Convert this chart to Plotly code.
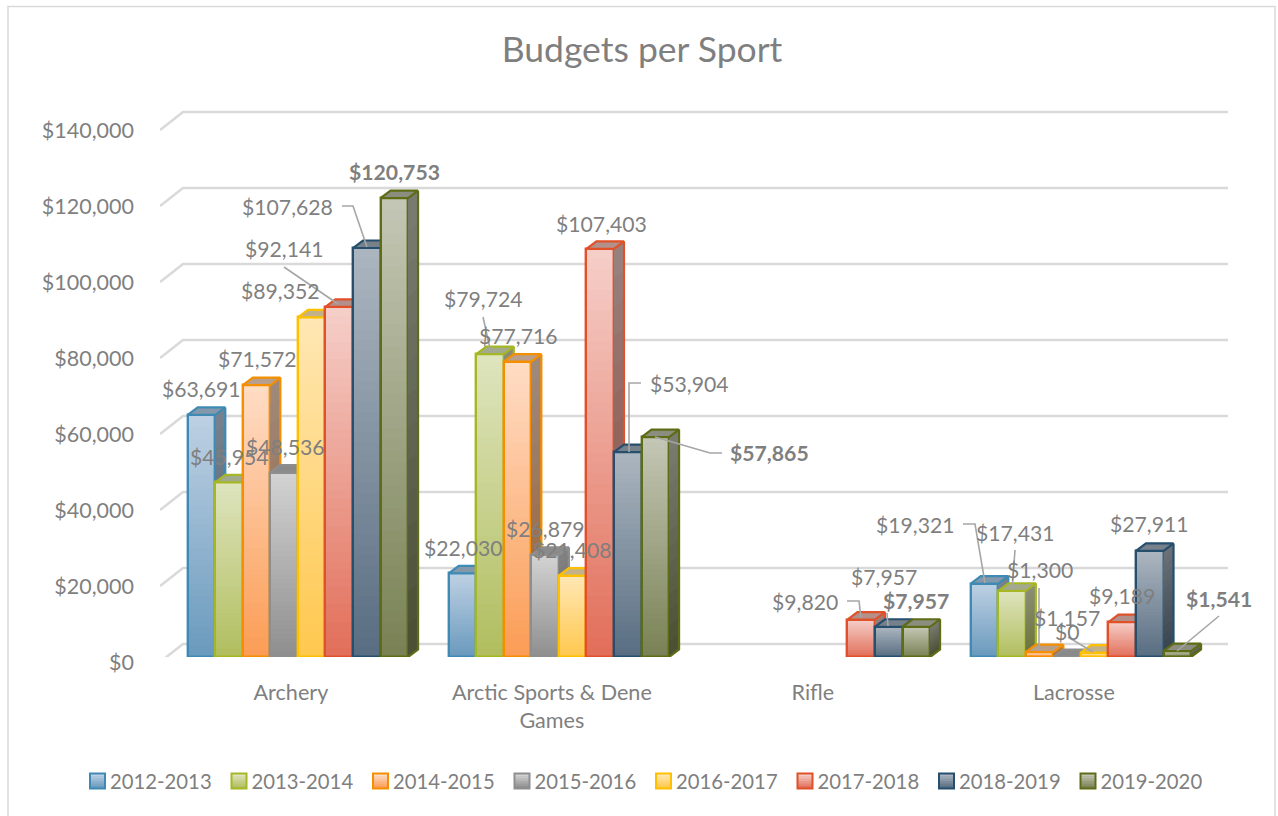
import plotly.graph_objects as go

# ---------- data ----------
categories = ["Archery", "Arctic Sports &amp; Dene<br>Games", "Rifle", "Lacrosse"]
seasons = ["2012-2013", "2013-2014", "2014-2015", "2015-2016",
           "2016-2017", "2017-2018", "2018-2019", "2019-2020"]
budget_2012_2013 = [63691, 22030, None, 19321]
budget_2013_2014 = [45954, 79724, None, 17431]
budget_2014_2015 = [71572, 77716, None, 1300]
budget_2015_2016 = [48536, 26879, None, 0]
budget_2016_2017 = [89352, 21408, None, 1157]
budget_2017_2018 = [92141, 107403, 9820, 9189]
budget_2018_2019 = [107628, 53904, 7957, 27911]
budget_2019_2020 = [120753, 57865, 7957, 1541]
budgets = [budget_2012_2013, budget_2013_2014, budget_2014_2015, budget_2015_2016,
           budget_2016_2017, budget_2017_2018, budget_2018_2019, budget_2019_2020]
y_ticks = [0, 20000, 40000, 60000, 80000, 100000, 120000, 140000]

# ---------- styles ----------
W, H = 1278, 816
FONT = "Lato"
GREY = "#7F7F7F"
BORDER = ["#3F8AB5", "#A6B726", "#F58F00", "#8E8E8E", "#FFC000", "#E0512A", "#264F6E", "#5F6C16"]
GRAD_TOP = ["#BDD0E3", "#DEE4BD", "#FFDCC4", "#D2D2D2", "#FFE7B3", "#F5CEC8", "#ABB5BF", "#C3C6B4"]
GRAD_BOT = ["#6A9ABD", "#B1BE5F", "#FB9D56", "#8F8F8F", "#FFC84F", "#E26F5A", "#596E82", "#7A8255"]
TOP_FACE = ["#8398AA", "#A3A98D", "#B89F8C", "#8A8A8A", "#C2B189", "#B39089", "#77818B", "#8B8E7E"]
N_FRONT, N_SIDE, N_SWATCH = 40, 14, 6

# pixel geometry of the reference
PX_PER_CAT = 261.0
PX_CAT0 = 297.9
PX_PER_USD = 76.0 / 20000
PX_BASE = 657.0
PLOT_L, PLOT_R, PLOT_T = 160, 1230, 100
BAR_PX = 27.54
DEPTH_X_PX, DEPTH_Y_PX = 10.0, 7.5
SWATCH_X0, SWATCH_PITCH, SWATCH_SIZE, SWATCH_TOP = 90.0, 141.5, 15.0, 773.5


def dx(px):
    return (px - PX_CAT0) / PX_PER_CAT


def dy(py):
    return (PX_BASE - py) / PX_PER_USD


def pap_x(px):
    return (px - PLOT_L) / (PLOT_R - PLOT_L)


def pap_y(py):
    return (PX_BASE - py) / (PX_BASE - PLOT_T)


X_RANGE = [dx(PLOT_L), dx(PLOT_R)]
Y_RANGE = [0, dy(PLOT_T)]
BAR_W = BAR_PX / PX_PER_CAT
DEPTH_X = DEPTH_X_PX / PX_PER_CAT
DEPTH_Y = DEPTH_Y_PX / PX_PER_USD


def hex_rgb(c):
    return tuple(int(c[i:i + 2], 16) for i in (1, 3, 5))


def mix(a, b, t, k=1.0):
    ra, rb = hex_rgb(a), hex_rgb(b)
    return "rgb(%d,%d,%d)" % tuple(round((ra[i] + (rb[i] - ra[i]) * t) * k) for i in range(3))


# label centres in pixels and leader polylines in pixels, per series / category
LABEL_POS = [
    [(201.5, 389), (463, 548), None, (915, 525)],
    [(229.5, 457), (483, 299), None, (1015, 533)],
    [(257, 359), (518, 336), None, (1040, 570)],
    [(285, 447), (545, 529), None, (1067, 632)],
    [(280, 291), (572, 550), None, (1067, 618)],
    [(284, 249), (601, 224), (805, 602), (1122, 596)],
    [(287, 207), (689, 384), (884, 577), (1149, 524)],
    [(394, 172), (769, 453), (916, 601), (1219, 599)],
]
LEADERS = [
    [(483, 317), (491, 353)],
    [(1015, 550), (1012, 590)],
    [(1039, 588), (1039, 650)],
    [(1068, 637), (1093, 652)],
    [(284, 267), (338, 304)],
    [(847, 601), (859, 601), (861, 618)],
    [(342, 206), (353, 206), (367, 247)],
    [(641, 383), (629, 383), (629, 452)],
    [(887, 613), (888, 626)],
    [(722, 453), (710, 453), (655, 437)],
    [(1219, 616), (1177, 651)],
    [(963, 524), (975, 524), (985, 583)],
]

fig = go.Figure()

# back wall gridlines, drawn from the tick values on the base axes
gx, gy = [], []
for t in y_ticks:
    gx += [dx(160), dx(183), dx(1228), None]
    gy += [t + dy(662), t + dy(644), t + dy(644), None]
fig.add_trace(go.Scatter(x=gx, y=gy, mode="lines", line=dict(color="#D9D9D9", width=2.5),
                         hoverinfo="skip", showlegend=False, cliponaxis=False))

for k, (season, vals) in enumerate(zip(seasons, budgets)):
    ax = str(k + 2)
    xa, ya = "x" + ax, "y" + ax
    offset = (k - 4) * BAR_W
    xs = list(range(len(categories)))

    # front face: gradient made of overlaid bars, tallest first
    for s in range(N_FRONT):
        frac = 1 - s / N_FRONT
        fig.add_trace(go.Bar(
            x=xs, y=[None if v is None else v * frac for v in vals],
            width=BAR_W, offset=offset, xaxis=xa, yaxis=ya,
            marker=dict(color=mix(GRAD_TOP[k], GRAD_BOT[k], s / (N_FRONT - 1)), line=dict(width=0)),
            hoverinfo="skip", showlegend=False, cliponaxis=False))
    fig.add_trace(go.Bar(
        x=xs, y=[v if v else None for v in vals], width=BAR_W, offset=offset, xaxis=xa, yaxis=ya,
        marker=dict(color="rgba(0,0,0,0)", line=dict(color=BORDER[k], width=2.4)),
        hoverinfo="skip", showlegend=False, cliponaxis=False))

    # side face
    for s in range(N_SIDE):
        frac = 1 - s / N_SIDE
        px_, py_ = [], []
        for i, v in enumerate(vals):
            if not v:
                continue
            r = i + offset + BAR_W
            h = v * frac
            px_ += [r, r + DEPTH_X, r + DEPTH_X, r, r, None]
            py_ += [h, h + DEPTH_Y, DEPTH_Y, 0, h, None]
        fig.add_trace(go.Scatter(
            x=px_, y=py_, mode="lines", fill="toself", xaxis=xa, yaxis=ya,
            line=dict(width=0), fillcolor=mix(GRAD_TOP[k], GRAD_BOT[k], s / (N_SIDE - 1), 0.62),
            hoverinfo="skip", showlegend=False, cliponaxis=False))

    # side + top outlines and top face
    tx, ty, sx, sy = [], [], [], []
    for i, v in enumerate(vals):
        if v is None:
            continue
        l, r = i + offset, i + offset + BAR_W
        tx += [l, l + DEPTH_X, r + DEPTH_X, r, l, None]
        ty += [v, v + DEPTH_Y, v + DEPTH_Y, v, v, None]
        sx += [r + DEPTH_X, r + DEPTH_X, r, None]
        sy += [v + DEPTH_Y, DEPTH_Y, 0, None]
    fig.add_trace(go.Scatter(
        x=tx, y=ty, mode="lines", fill="toself", xaxis=xa, yaxis=ya,
        line=dict(color=BORDER[k], width=2.2), fillcolor=TOP_FACE[k],
        hoverinfo="skip", showlegend=False, cliponaxis=False))
    fig.add_trace(go.Scatter(
        x=sx, y=sy, mode="lines", xaxis=xa, yaxis=ya,
        line=dict(color=BORDER[k], width=2.2),
        hoverinfo="skip", showlegend=False, cliponaxis=False))

    # legend entry (its gradient swatch is drawn below, beside the text)
    fig.add_trace(go.Scatter(
        x=[None], y=[None], mode="markers", name=season, xaxis=xa, yaxis=ya,
        marker=dict(symbol="square", size=1, color="rgba(0,0,0,0)"),
        hoverinfo="skip"))

# leader lines above all bars
lx, ly = [], []
for poly in LEADERS:
    for p in poly:
        lx.append(dx(p[0]))
        ly.append(dy(p[1]))
    lx.append(None)
    ly.append(None)
fig.add_trace(go.Scatter(x=lx, y=ly, mode="lines", xaxis="x9", yaxis="y9",
                         line=dict(color="#A6A6A6", width=1.6),
                         hoverinfo="skip", showlegend=False, cliponaxis=False))

# data labels
annotations = []
for k, vals in enumerate(budgets):
    for i, v in enumerate(vals):
        if v is None:
            continue
        p = LABEL_POS[k][i]
        txt = f"${v:,}"
        if k == 7:
            txt = f"<b>{txt}</b>"
        annotations.append(dict(x=dx(p[0]), y=dy(p[1]), xref="x", yref="y", text=txt,
                                showarrow=False, xanchor="center", yanchor="middle",
                                font=dict(family=FONT, size=21.2, color=GREY)))

# chart frame and legend swatches
shapes = [dict(type="path", xref="paper", yref="paper", layer="below",
               path="M %f %f L %f %f L %f %f L %f %f" % (
                   pap_x(8), pap_y(830), pap_x(8), pap_y(6.5),
                   pap_x(1275), pap_y(6.5), pap_x(1275), pap_y(830)),
               line=dict(color="#D9D9D9", width=1.5))]
for k in range(len(seasons)):
    x0 = SWATCH_X0 + k * SWATCH_PITCH
    for s in range(N_SWATCH):
        shapes.append(dict(type="rect", xref="paper", yref="paper", layer="above",
                           x0=pap_x(x0), x1=pap_x(x0 + SWATCH_SIZE),
                           y0=pap_y(SWATCH_TOP + SWATCH_SIZE * s / N_SWATCH),
                           y1=pap_y(SWATCH_TOP + SWATCH_SIZE),
                           fillcolor=mix(GRAD_TOP[k], GRAD_BOT[k], s / (N_SWATCH - 1)),
                           line=dict(width=0)))
    shapes.append(dict(type="rect", xref="paper", yref="paper", layer="above",
                       x0=pap_x(x0), x1=pap_x(x0 + SWATCH_SIZE),
                       y0=pap_y(SWATCH_TOP), y1=pap_y(SWATCH_TOP + SWATCH_SIZE),
                       fillcolor="rgba(0,0,0,0)", line=dict(color=BORDER[k], width=2)))

layout = dict(
    width=W, height=H, autosize=False,
    margin=dict(l=PLOT_L, r=W - PLOT_R, t=PLOT_T, b=H - int(PX_BASE), pad=0),
    paper_bgcolor="white", plot_bgcolor="rgba(0,0,0,0)",
    barmode="overlay", bargap=0,
    font=dict(family=FONT, color=GREY, size=20),
    title=dict(text="Budgets per Sport", x=642 / W, xanchor="center", y=1 - 50 / H, yanchor="middle",
               font=dict(family=FONT, size=35.5, color=GREY)),
    xaxis=dict(range=X_RANGE, tickmode="array", tickvals=list(range(len(categories))), ticktext=categories,
               showgrid=False, zeroline=False, showline=False, ticks="", ticklabelshift=-7,
               ticklabelstandoff=20, tickfont=dict(family=FONT, size=21.6, color=GREY), fixedrange=True),
    yaxis=dict(range=Y_RANGE, tickmode="array", tickvals=y_ticks, ticktext=[f"${t:,}" for t in y_ticks],
               showgrid=False, zeroline=False, showline=False, ticks="", ticklabelshift=5,
               ticklabelstandoff=25, tickfont=dict(family=FONT, size=21.5, color=GREY), fixedrange=True),
    legend=dict(orientation="h", x=pap_x(70), xanchor="left",
                y=pap_y(761), yanchor="top",
                entrywidth=96.5, entrywidthmode="pixels", itemclick=False, itemdoubleclick=False,
                font=dict(family=FONT, size=20.3, color=GREY), bgcolor="rgba(0,0,0,0)"),
    annotations=annotations,
    shapes=shapes,
    hovermode=False,
)
for k in range(2, 10):
    layout[f"xaxis{k}"] = dict(range=X_RANGE, overlaying="x", visible=False, anchor=f"y{k}", fixedrange=True)
    layout[f"yaxis{k}"] = dict(range=Y_RANGE, overlaying="y", visible=False, anchor=f"x{k}", fixedrange=True)
fig.update_layout(**layout)

fig.write_html("out.html", config=dict(displayModeBar=False),
               post_script="document.body.style.margin='0';document.body.style.overflow='hidden';")
